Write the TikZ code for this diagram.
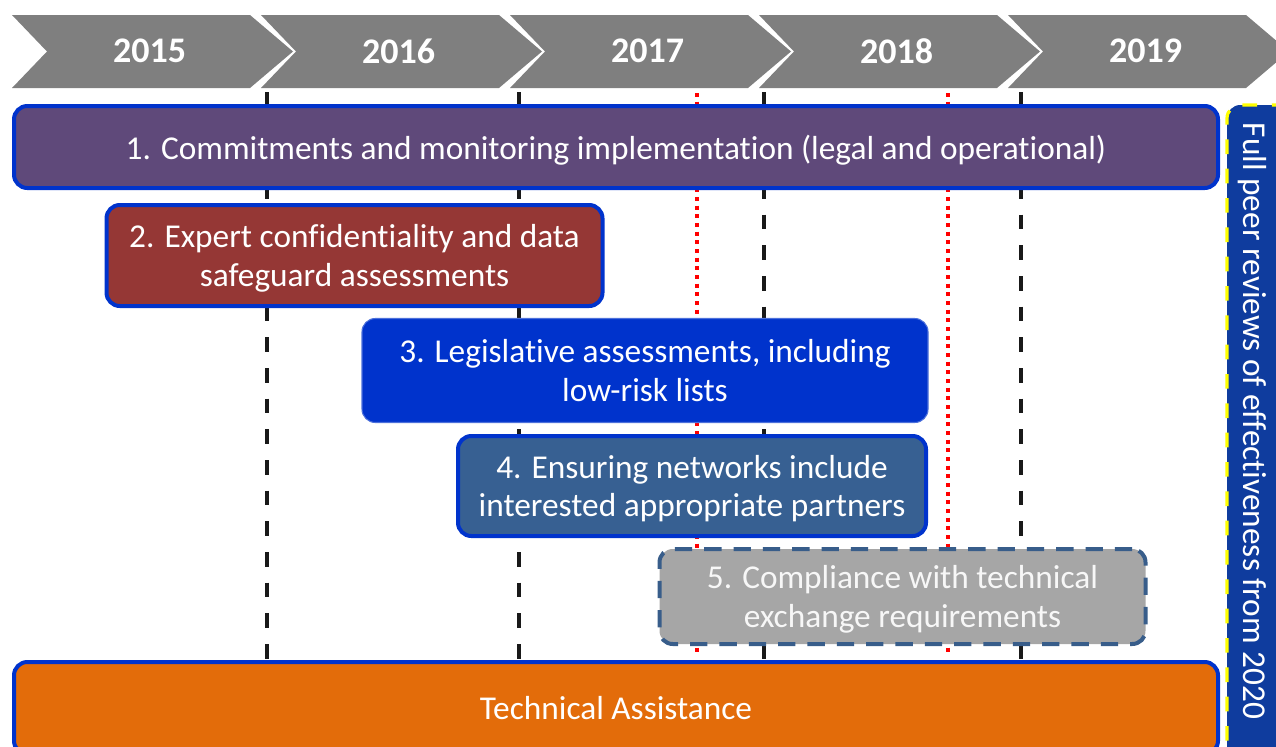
\documentclass[tikz,border=0pt]{standalone}
\usepackage{fontspec}
\setmainfont[Ligatures={NoCommon}]{Carlito}
\definecolor{chev}{HTML}{7F7F7F}
\definecolor{bpurple}{HTML}{5F497A}
\definecolor{bred}{HTML}{953735}
\definecolor{bblue}{HTML}{0033CC}
\definecolor{bsteel}{HTML}{376092}
\definecolor{bgray}{HTML}{A6A6A6}
\definecolor{borange}{HTML}{E36C0A}
\definecolor{bbar}{HTML}{0F3C9E}
\definecolor{edgeblue}{HTML}{0033CC}
\definecolor{dashblue}{HTML}{385D8A}
\definecolor{byellow}{HTML}{FFFF00}
\tikzset{
  chevron/.style={fill=chev, draw=none},
  yearlbl/.style={text=white, font=\bfseries\fontsize{27}{30}\selectfont, inner sep=0pt},
  box/.style={rounded corners=10pt, draw=edgeblue, line width=3pt, text=white,
    font=\fontsize{25}{29}\selectfont, align=center, inner sep=0pt, text depth=0pt},
  blackdash/.style={draw=black!90, line width=2.4pt, dash pattern=on 11pt off 12pt},
  reddot/.style={draw=red, line width=3pt, dash pattern=on 3pt off 3.5pt},
}
\begin{document}
\begin{tikzpicture}[x=0.75pt,y=-0.75pt]
\useasboundingbox (0,0) rectangle (1276,746);
\clip (0,0) rectangle (1276,746);
% chevrons
\foreach \i/\yr in {0/2015,1/2016,2/2017,3/2018,4/2019}{
  \pgfmathsetmacro{\xs}{12+249*\i}
  \fill[chevron] (\xs,15) -- ++(238,0) -- ++(43,36.5) -- ++(-43,36.5) -- ++(-238,0) -- ++(35,-36.5) -- cycle;
  \node[yearlbl] (y\yr) at ({\xs+137.5},51) {\yr};
}
% grid lines
\draw[blackdash] (267,92) -- (267,660);
\draw[blackdash] (519,92) -- (519,660);
\draw[blackdash] (764,92) -- (764,660);
\draw[blackdash] (1021,92) -- (1021,660);
\draw[reddot] (697,93) -- (697,655);
\draw[reddot] (948,93) -- (948,655);
% boxes
\node[box, fill=bpurple, minimum width=1204*0.75pt, minimum height=82*0.75pt] (b1) at (616,147)
  {1. Commitments and monitoring implementation (legal and operational)};
\node[box, fill=bred, minimum width=496*0.75pt, minimum height=101*0.75pt] (b2) at (354.5,255.5)
  {2. Expert confidentiality and data\\safeguard assessments};
\node[box, fill=bblue, draw=bblue!70!white, line width=0.8pt, minimum width=566*0.75pt, minimum height=104*0.75pt] (b3) at (645,370.5)
  {3. Legislative assessments, including\\low-risk lists};
\node[box, fill=bsteel, minimum width=468*0.75pt, minimum height=100*0.75pt] (b4) at (692,486)
  {4. Ensuring networks include\\interested appropriate partners};
\node[box, fill=bgray, draw=dashblue, dash pattern=on 13pt off 9pt, text=white!97!black, minimum width=486*0.75pt, minimum height=95*0.75pt] (b5) at (902.5,596.5)
  {5. Compliance with technical\\exchange requirements};
\node[box, fill=borange, minimum width=1204*0.75pt, minimum height=92*0.75pt] (b6) at (616,708)
  {Technical Assistance};
% right bar
\fill[bbar, rounded corners=10pt] (1227,105) rectangle (1300,770);
\draw[byellow, line width=2.4pt, dash pattern=on 11pt off 11pt, rounded corners=10pt]
  (1227,770) -- (1227,105) -- (1300,105);
\node[text=white, font=\fontsize{25}{29}\selectfont, rotate=-90, inner sep=0pt] (peer) at (1252,421)
  {Full peer reviews of effectiveness from 2020};
\end{tikzpicture}
\end{document}
